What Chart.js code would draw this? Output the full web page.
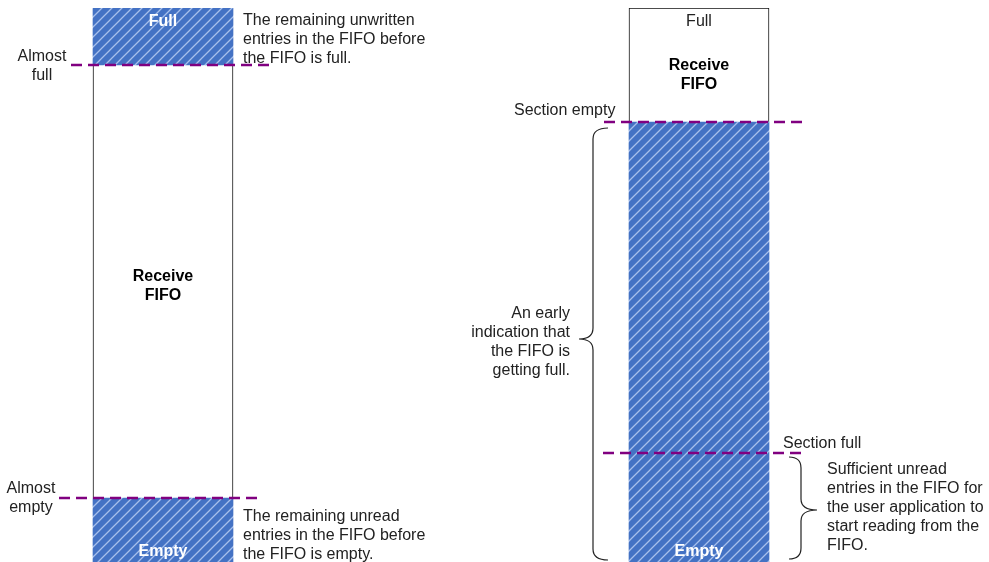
<!DOCTYPE html>
<html><head><meta charset="utf-8">
<script src="https://cdn.jsdelivr.net/npm/chart.js@4.4.1/dist/chart.umd.min.js"></script>
<style>html,body{margin:0;padding:0;background:#fff;overflow:hidden}#wrap{width:989px;height:562px;position:relative}</style>
</head><body><div id="wrap"><canvas id="c" width="989" height="562"></canvas></div>
<script>
// ---------------- DATA (FIFO levels, 0 = empty, capacity = full) ----------------
const fifoCapacity = 554;
const fifoTitles = ['Receive\nFIFO', 'Receive\nFIFO'];
const leftThresholdNames = ['Almost\nempty', 'Almost\nfull'];
const leftThresholdLevels = [64, 497];
const rightThresholdNames = ['Section full', 'Section empty'];
const rightThresholdLevels = [109, 440];
const leftHatched = [[0, 64], [497, 554]];   // unread entries / unwritten entries
const leftPlain = [[64, 497]];
const rightHatched = [[0, 440]];
const rightPlain = [[440, 554]];
const leftNotes = ['The remaining unwritten\nentries in the FIFO before\nthe FIFO is full.',
                   'The remaining unread\nentries in the FIFO before\nthe FIFO is empty.'];
const rightNotes = ['An early\nindication that\nthe FIFO is\ngetting full.',
                    'Sufficient unread\nentries in the FIFO for\nthe user application to\nstart reading from the\nFIFO.'];
const endLabels = ['Full', 'Empty'];

// ---------------- LAYOUT (diagram units) ----------------
const layout = {
  colX: [163, 699], barW: 140,
  leftDash: [[59, 261], [71, 274]],      // x-extent for almost empty / almost full
  rightDash: [[603, 804], [604, 806]],   // x-extent for section full / section empty
  lineH: 19
};

const FONT = '"Liberation Sans", Arial, sans-serif';
const BLUE = '#4472C4', PURPLE = '#800080', EDGE = '#111111';

function makeHatch() {
  const s = 10, c = document.createElement('canvas'); c.width = s; c.height = s;
  const g = c.getContext('2d');
  g.fillStyle = BLUE; g.fillRect(0, 0, s, s);
  g.strokeStyle = 'rgba(200,218,248,0.75)'; g.lineWidth = 1.3;
  g.beginPath();
  g.moveTo(0, s); g.lineTo(s, 0);
  g.moveTo(-2, 2); g.lineTo(2, -2);
  g.moveTo(s - 2, s + 2); g.lineTo(s + 2, s - 2);
  g.stroke();
  return g.createPattern(c, 'repeat');
}
const hatch = makeHatch();

const pts = (col, ranges) => ranges.map(r => ({ x: layout.colX[col], y: r }));
const dashSet = (ext, lvl, label) => ({
  type: 'line', label, order: 0,
  data: [{ x: ext[0], y: lvl }, { x: ext[1], y: lvl }],
  borderColor: PURPLE, borderWidth: 2.6, borderDash: [11, 6], borderCapStyle: 'butt',
  pointRadius: 0, fill: false
});

const datasets = [
  { label: 'Hatched', data: pts(0, leftHatched).concat(pts(1, rightHatched)),
    backgroundColor: hatch, borderWidth: 0, grouped: false, barThickness: layout.barW, order: 2 },
  { label: 'Left plain', data: pts(0, leftPlain), backgroundColor: '#fff', borderColor: EDGE,
    borderWidth: { left: 1, right: 1, top: 0, bottom: 0 }, borderSkipped: false,
    grouped: false, barThickness: layout.barW, order: 2 },
  { label: 'Right plain', data: pts(1, rightPlain), backgroundColor: '#fff', borderColor: EDGE,
    borderWidth: { left: 1, right: 1, top: 1, bottom: 0 }, borderSkipped: false,
    grouped: false, barThickness: layout.barW, order: 2 },
  dashSet(layout.leftDash[0], leftThresholdLevels[0], leftThresholdNames[0]),
  dashSet(layout.leftDash[1], leftThresholdLevels[1], leftThresholdNames[1]),
  dashSet(layout.rightDash[0], rightThresholdLevels[0], rightThresholdNames[0]),
  dashSet(layout.rightDash[1], rightThresholdLevels[1], rightThresholdNames[1])
];

// text annotations: x (diagram units), baseline level v, alignment, style
const texts = [
  { t: endLabels[0], x: layout.colX[0], v: 536, a: 'center', c: '#fff', b: true },
  { t: fifoTitles[0], x: layout.colX[0], v: 281, a: 'center', c: '#000', b: true },
  { t: endLabels[1], x: layout.colX[0], v: 6, a: 'center', c: '#fff', b: true },
  { t: leftThresholdNames[1], x: 42, v: 501, a: 'center', c: '#222' },
  { t: leftThresholdNames[0], x: 31, v: 69, a: 'center', c: '#222' },
  { t: leftNotes[0], x: 243, v: 537, a: 'left', c: '#222' },
  { t: leftNotes[1], x: 243, v: 41, a: 'left', c: '#222' },
  { t: endLabels[0], x: layout.colX[1], v: 536, a: 'center', c: '#222' },
  { t: fifoTitles[1], x: layout.colX[1], v: 492, a: 'center', c: '#000', b: true },
  { t: endLabels[1], x: layout.colX[1], v: 6, a: 'center', c: '#fff', b: true },
  { t: rightThresholdNames[1], x: 514, v: 447, a: 'left', c: '#222' },
  { t: rightThresholdNames[0], x: 783, v: 114, a: 'left', c: '#222' },
  { t: rightNotes[0], x: 570, v: 244, a: 'right', c: '#222' },
  { t: rightNotes[1], x: 827, v: 88, a: 'left', c: '#222' }
];
// braces: vertical x, end x, tip x, top/mid/bottom levels
const braces = [
  { xv: 593, xe: 608, xt: 579, top: 434, mid: 223, bot: 2 },
  { xv: 801, xe: 789, xt: 817, top: 105, mid: 52, bot: 3 }
];

const annot = {
  id: 'annot',
  afterDatasetsDraw(chart) {
    const { ctx, scales: { x, y } } = chart;
    ctx.save();
    ctx.strokeStyle = '#222'; ctx.lineWidth = 1.2;
    braces.forEach(b => {
      const xv = x.getPixelForValue(b.xv), xe = x.getPixelForValue(b.xe), xt = x.getPixelForValue(b.xt);
      const yt = y.getPixelForValue(b.top), ym = y.getPixelForValue(b.mid), yb = y.getPixelForValue(b.bot);
      const r = 11;
      ctx.beginPath();
      ctx.moveTo(xe, yt);
      ctx.quadraticCurveTo(xv, yt, xv, yt + r);
      ctx.lineTo(xv, ym - r);
      ctx.quadraticCurveTo(xv, ym, xt, ym);
      ctx.quadraticCurveTo(xv, ym, xv, ym + r);
      ctx.lineTo(xv, yb - r);
      ctx.quadraticCurveTo(xv, yb, xe, yb);
      ctx.stroke();
    });
    ctx.textBaseline = 'alphabetic';
    texts.forEach(o => {
      ctx.font = (o.b ? 'bold ' : '') + '16px ' + FONT;
      ctx.fillStyle = o.c; ctx.textAlign = o.a;
      const px = x.getPixelForValue(o.x);
      const py = y.getPixelForValue(o.v);
      o.t.split('\n').forEach((line, i) => ctx.fillText(line, px, py + i * layout.lineH));
    });
    ctx.restore();
  }
};

new Chart(document.getElementById('c'), {
  type: 'bar',
  data: { datasets },
  options: {
    responsive: false, animation: false, devicePixelRatio: 1,
    layout: { padding: { top: 8, left: 0, right: 0, bottom: 0 } },
    plugins: { legend: { display: false }, tooltip: { enabled: false } },
    scales: {
      x: { type: 'linear', min: 0, max: 989, display: false, offset: false },
      y: { type: 'linear', min: 0, max: fifoCapacity, display: false, grace: 0 }
    }
  },
  plugins: [annot]
});
</script></body></html>
